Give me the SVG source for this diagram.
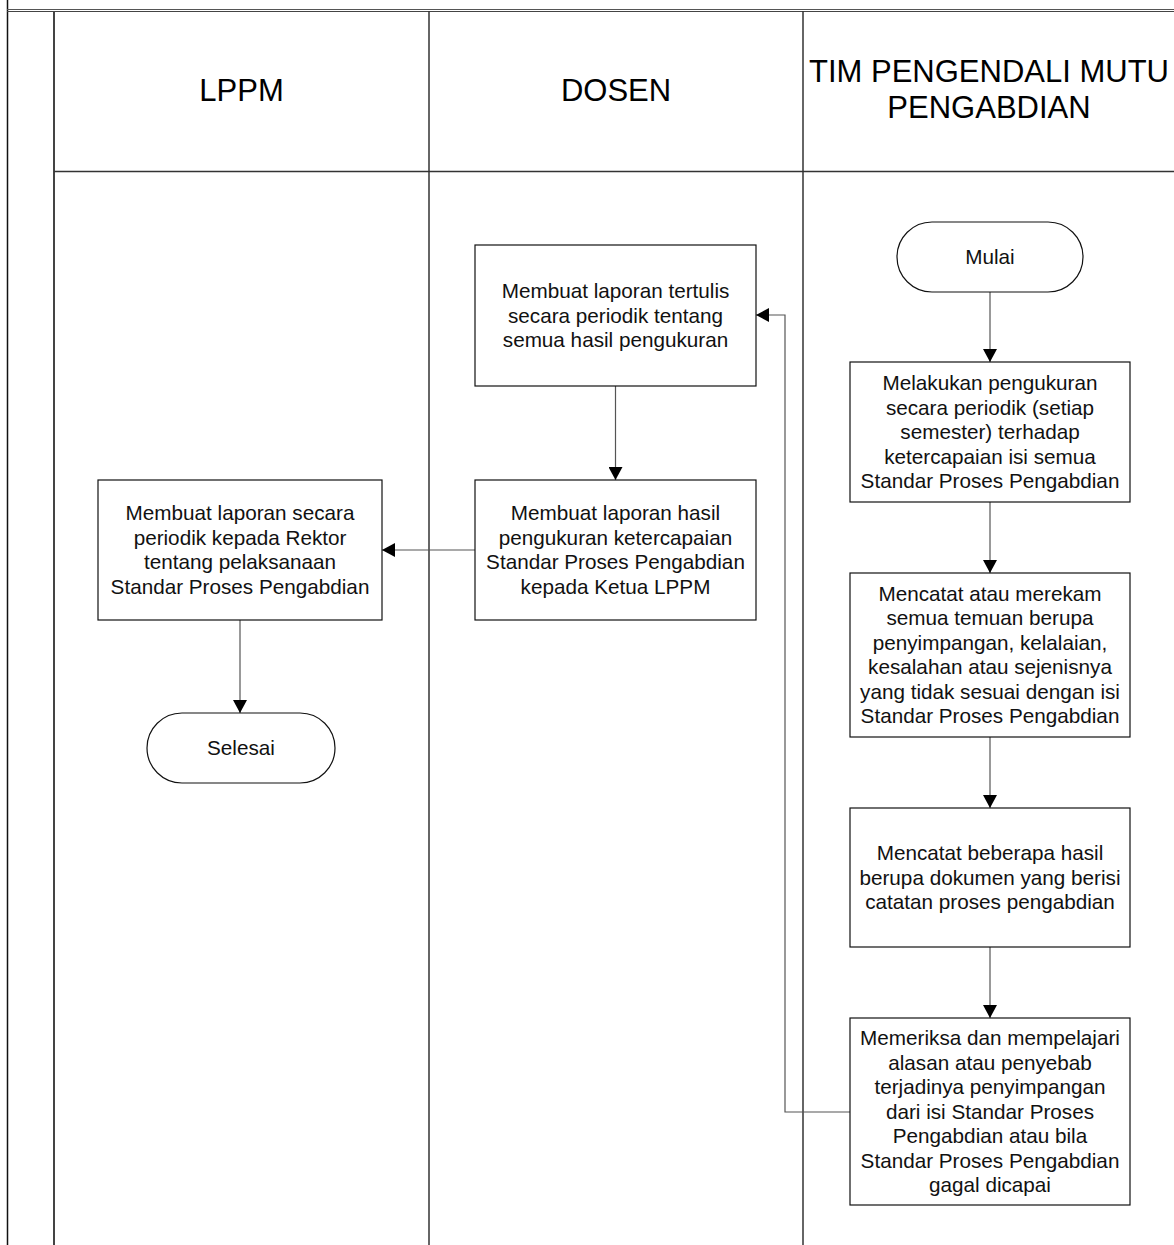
<svg xmlns="http://www.w3.org/2000/svg" width="1174" height="1245" viewBox="0 0 1174 1245">
<style>
.lane{stroke:#333;stroke-width:1.5;fill:none}
.box{fill:#fff;stroke:#111;stroke-width:1.2}
.hdr{font-family:"Liberation Sans",Arial,sans-serif;font-size:31px;fill:#000;text-anchor:middle}
.t{font-family:"Liberation Sans",Arial,sans-serif;font-size:20.7px;fill:#111;text-anchor:middle}
.conn{stroke:#555;stroke-width:1.2;fill:none}
</style>
<defs>
<marker id="arr" markerUnits="userSpaceOnUse" markerWidth="14" markerHeight="14" viewBox="0 0 14 14" refX="13" refY="7" orient="auto">
<path d="M0,0 L13,7 L0,14 Z" fill="#000"/>
</marker>
</defs>
<rect width="1174" height="1245" fill="#fff"/>
<g id="frame">
<line x1="7.5" y1="0" x2="7.5" y2="1245" stroke="#111" stroke-width="1.5"/>
<line x1="7" y1="9.5" x2="1174" y2="9.5" stroke="#555" stroke-width="1.2"/>
<line x1="7" y1="11.5" x2="1174" y2="11.5" stroke="#444" stroke-width="1.2"/>
<line x1="54" y1="11" x2="54" y2="1245" stroke="#444" stroke-width="2"/>
<line x1="54" y1="171.5" x2="1174" y2="171.5" class="lane"/>
<line x1="429" y1="11" x2="429" y2="1245" class="lane"/>
<line x1="803" y1="11" x2="803" y2="1245" class="lane"/>
</g>
<g id="headers">
<text class="hdr" x="241.5" y="101">LPPM</text>
<text class="hdr" x="616" y="101">DOSEN</text>
<text class="hdr" x="989" y="82">TIM PENGENDALI MUTU</text>
<text class="hdr" x="989" y="118">PENGABDIAN</text>
</g>
<g id="connectors">
<line class="conn" x1="990" y1="292" x2="990" y2="362" marker-end="url(#arr)"/>
<line class="conn" x1="990" y1="502" x2="990" y2="573" marker-end="url(#arr)"/>
<line class="conn" x1="990" y1="737" x2="990" y2="808" marker-end="url(#arr)"/>
<line class="conn" x1="990" y1="947" x2="990" y2="1018" marker-end="url(#arr)"/>
<polyline class="conn" points="850,1112 785,1112 785,315 756,315" marker-end="url(#arr)"/>
<line class="conn" x1="615.5" y1="386" x2="615.5" y2="480" marker-end="url(#arr)"/>
<line class="conn" x1="475" y1="550" x2="382" y2="550" marker-end="url(#arr)"/>
<line class="conn" x1="240" y1="620" x2="240" y2="713" marker-end="url(#arr)"/>
</g>
<g id="mulai">
<rect class="box" x="897" y="222" width="186" height="70" rx="35" ry="35"/>
<text class="t" x="990" y="264">Mulai</text>
</g>
<g id="tim1">
<rect class="box" x="850" y="362" width="280" height="140"/>
<text class="t" x="990"><tspan x="990" y="390">Melakukan pengukuran</tspan><tspan x="990" y="414.5">secara periodik (setiap</tspan><tspan x="990" y="439">semester) terhadap</tspan><tspan x="990" y="463.5">ketercapaian isi semua</tspan><tspan x="990" y="488">Standar Proses Pengabdian</tspan></text>
</g>
<g id="tim2">
<rect class="box" x="850" y="573" width="280" height="164"/>
<text class="t" x="990"><tspan x="990" y="600.5">Mencatat atau merekam</tspan><tspan x="990" y="625">semua temuan berupa</tspan><tspan x="990" y="649.5">penyimpangan, kelalaian,</tspan><tspan x="990" y="674">kesalahan atau sejenisnya</tspan><tspan x="990" y="698.5">yang tidak sesuai dengan isi</tspan><tspan x="990" y="723">Standar Proses Pengabdian</tspan></text>
</g>
<g id="tim3">
<rect class="box" x="850" y="808" width="280" height="139"/>
<text class="t" x="990"><tspan x="990" y="860">Mencatat beberapa hasil</tspan><tspan x="990" y="884.5">berupa dokumen yang berisi</tspan><tspan x="990" y="909">catatan proses pengabdian</tspan></text>
</g>
<g id="tim4">
<rect class="box" x="850" y="1018" width="280" height="187"/>
<text class="t" x="990"><tspan x="990" y="1045">Memeriksa dan mempelajari</tspan><tspan x="990" y="1069.5">alasan atau penyebab</tspan><tspan x="990" y="1094">terjadinya penyimpangan</tspan><tspan x="990" y="1118.5">dari isi Standar Proses</tspan><tspan x="990" y="1143">Pengabdian atau bila</tspan><tspan x="990" y="1167.5">Standar Proses Pengabdian</tspan><tspan x="990" y="1192">gagal dicapai</tspan></text>
</g>
<g id="dosen1">
<rect class="box" x="475" y="245" width="281" height="141"/>
<text class="t" x="615.5"><tspan x="615.5" y="298">Membuat laporan tertulis</tspan><tspan x="615.5" y="322.5">secara periodik tentang</tspan><tspan x="615.5" y="347">semua hasil pengukuran</tspan></text>
</g>
<g id="dosen2">
<rect class="box" x="475" y="480" width="281" height="140"/>
<text class="t" x="615.5"><tspan x="615.5" y="520">Membuat laporan hasil</tspan><tspan x="615.5" y="544.5">pengukuran ketercapaian</tspan><tspan x="615.5" y="569">Standar Proses Pengabdian</tspan><tspan x="615.5" y="593.5">kepada Ketua LPPM</tspan></text>
</g>
<g id="lppm1">
<rect class="box" x="98" y="480" width="284" height="140"/>
<text class="t" x="240"><tspan x="240" y="520">Membuat laporan secara</tspan><tspan x="240" y="544.5">periodik kepada Rektor</tspan><tspan x="240" y="569">tentang pelaksanaan</tspan><tspan x="240" y="593.5">Standar Proses Pengabdian</tspan></text>
</g>
<g id="selesai">
<rect class="box" x="147" y="713" width="188" height="70" rx="35" ry="35"/>
<text class="t" x="241" y="755">Selesai</text>
</g>
</svg>
